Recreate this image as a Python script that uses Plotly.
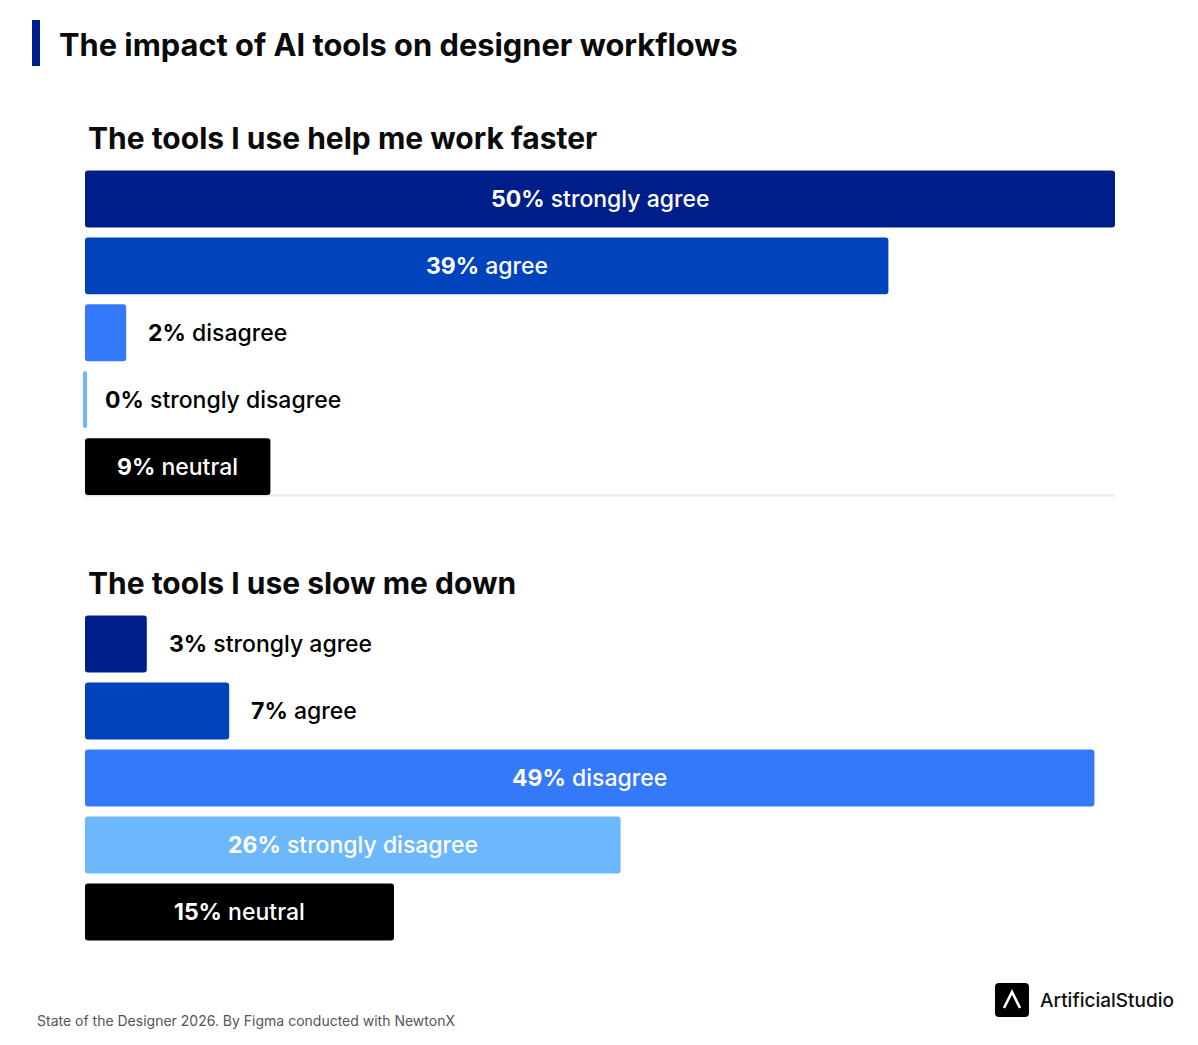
import plotly.graph_objects as go

W, H = 1198, 1045

# ---- data ----
main_title = "The impact of AI tools on designer workflows"
chart1_title = "The tools I use help me work faster"
chart2_title = "The tools I use slow me down"
responses = ["strongly agree", "agree", "disagree", "strongly disagree", "neutral"]
faster_values = [50, 39, 2, 0, 9]
slower_values = [3, 7, 49, 26, 15]
colors = ["#001E8A", "#0043BD", "#3579FB", "#6DB7FD", "#000000"]
source_text = "State of the Designer 2026. By Figma conducted with NewtonX"
brand_text = "ArtificialStudio"

FONT = "Inter, Roboto, sans-serif"
INSIDE_MIN = 9  # values >= this get label inside bar
MIN_VISIBLE = 0.2  # smallest drawn length (so a 0% still shows a sliver)
LABEL_SIZE = 23
X_MAX = 50

def px_x(x):
    return x / W

def px_y(y):
    return 1 - y / H

fig = go.Figure()
annotations = []

def add_chart(values, xa, ya):
    lengths = [max(v, MIN_VISIBLE) for v in values]
    bases = [(-MIN_VISIBLE / 2 if v == 0 else 0) for v in values]
    big = [i for i, v in enumerate(values) if v > 0]
    zero = [i for i, v in enumerate(values) if v == 0]
    for idxs, rad in ((big, 3), (zero, 2)):
        if not idxs:
            continue
        fig.add_trace(go.Bar(
            y=[responses[i] for i in idxs], x=[lengths[i] for i in idxs],
            base=[bases[i] for i in idxs], orientation="h",
            marker=dict(color=[colors[i] for i in idxs], line=dict(width=0),
                        cornerradius=rad),
            width=0.85, xaxis=xa, yaxis=ya, hoverinfo="skip", showlegend=False,
        ))
    for r, v in zip(responses, values):
        label = f"<b>{v}%</b> {r}"
        if v >= INSIDE_MIN:
            annotations.append(dict(
                x=v / 2, y=r, xref=xa, yref=ya, text=label, showarrow=False,
                xanchor="center", yanchor="middle",
                font=dict(family=FONT, size=LABEL_SIZE, color="white", weight=500),
            ))
        else:
            annotations.append(dict(
                x=v, y=r, xref=xa, yref=ya, text=label,
                showarrow=False, xanchor="left", yanchor="middle",
                xshift=20 if v > 0 else 18,
                font=dict(family=FONT, size=LABEL_SIZE, color="black", weight=500),
            ))

add_chart(faster_values, "x", "y")
add_chart(slower_values, "x2", "y2")

# plot area: value 0 at 85px, value 50 at 1115px; extend slightly left for the 0% sliver
px_per_unit = (1115 - 85) / X_MAX
left_px = 85 - (MIN_VISIBLE / 2) * px_per_unit
xdom = [px_x(left_px), px_x(1115)]
axis_common_x = dict(range=[-MIN_VISIBLE / 2, X_MAX], showgrid=False, zeroline=False,
                     showticklabels=False, ticks="", fixedrange=True)
axis_common_y = dict(showgrid=False, zeroline=False, showticklabels=False,
                     ticks="", categoryorder="array", categoryarray=responses,
                     fixedrange=True)

fig.update_layout(
    width=W, height=H,
    margin=dict(l=0, r=0, t=0, b=0),
    paper_bgcolor="white", plot_bgcolor="white",
    barmode="overlay",
    xaxis=dict(domain=xdom, anchor="y", showline=False, **axis_common_x),
    yaxis=dict(domain=[px_y(495), px_y(165.5)], anchor="x",
               range=[4.425, -0.5], **axis_common_y),
    xaxis2=dict(domain=xdom, anchor="y2", showline=False, **axis_common_x),
    yaxis2=dict(domain=[px_y(945.5), px_y(610.5)], anchor="x2",
                range=[4.5, -0.5], **axis_common_y),
    font=dict(family=FONT),
)

# titles and texts
annotations += [
    dict(x=px_x(57), y=px_y(44), xref="paper", yref="paper", text=f"<b>{main_title}</b>",
         showarrow=False, xanchor="left", yanchor="middle",
         font=dict(family=FONT, size=30.8, color="#0A0A0A")),
    dict(x=px_x(86), y=px_y(138), xref="paper", yref="paper", text=f"<b>{chart1_title}</b>",
         showarrow=False, xanchor="left", yanchor="middle",
         font=dict(family=FONT, size=30, color="#0A0A0A")),
    dict(x=px_x(86), y=px_y(583), xref="paper", yref="paper", text=f"<b>{chart2_title}</b>",
         showarrow=False, xanchor="left", yanchor="middle",
         font=dict(family=FONT, size=30, color="#0A0A0A")),
    dict(x=px_x(35), y=px_y(1020), xref="paper", yref="paper", text=source_text,
         showarrow=False, xanchor="left", yanchor="middle",
         font=dict(family=FONT, size=14, color="#555555")),
    dict(x=px_x(1038), y=px_y(1000), xref="paper", yref="paper", text=brand_text,
         showarrow=False, xanchor="left", yanchor="middle",
         font=dict(family=FONT, size=19, color="#111111", weight=500)),
]
fig.update_layout(annotations=annotations)

def pts(x, y):
    return f"{px_x(x):.5f},{px_y(y):.5f}"

def rounded_rect(x0, y0, x1, y1, r):
    return (f"M {pts(x0 + r, y0)} L {pts(x1 - r, y0)} Q {pts(x1, y0)} {pts(x1, y0 + r)} "
            f"L {pts(x1, y1 - r)} Q {pts(x1, y1)} {pts(x1 - r, y1)} "
            f"L {pts(x0 + r, y1)} Q {pts(x0, y1)} {pts(x0, y1 - r)} "
            f"L {pts(x0, y0 + r)} Q {pts(x0, y0)} {pts(x0 + r, y0)} Z")

shapes = [
    # separator under first chart
    dict(type="line", xref="paper", yref="paper", x0=px_x(85), x1=px_x(1115),
         y0=px_y(495.5), y1=px_y(495.5), line=dict(color="#E8E8E8", width=2),
         layer="below"),
    # title accent bar
    dict(type="rect", xref="paper", yref="paper", x0=px_x(32), x1=px_x(40),
         y0=px_y(66), y1=px_y(20), fillcolor="#001E8A", line=dict(width=0)),
    # logo square
    dict(type="path", xref="paper", yref="paper", path=rounded_rect(995, 983, 1029, 1017, 4),
         fillcolor="#000000", line=dict(width=0)),
    # logo chevron
    dict(type="path", xref="paper", yref="paper",
         path=f"M {pts(1004, 1008)} L {pts(1012, 992)} L {pts(1020, 1008)}",
         line=dict(color="white", width=2.6)),
]
fig.update_layout(shapes=shapes)

fig.write_html("out.html")
